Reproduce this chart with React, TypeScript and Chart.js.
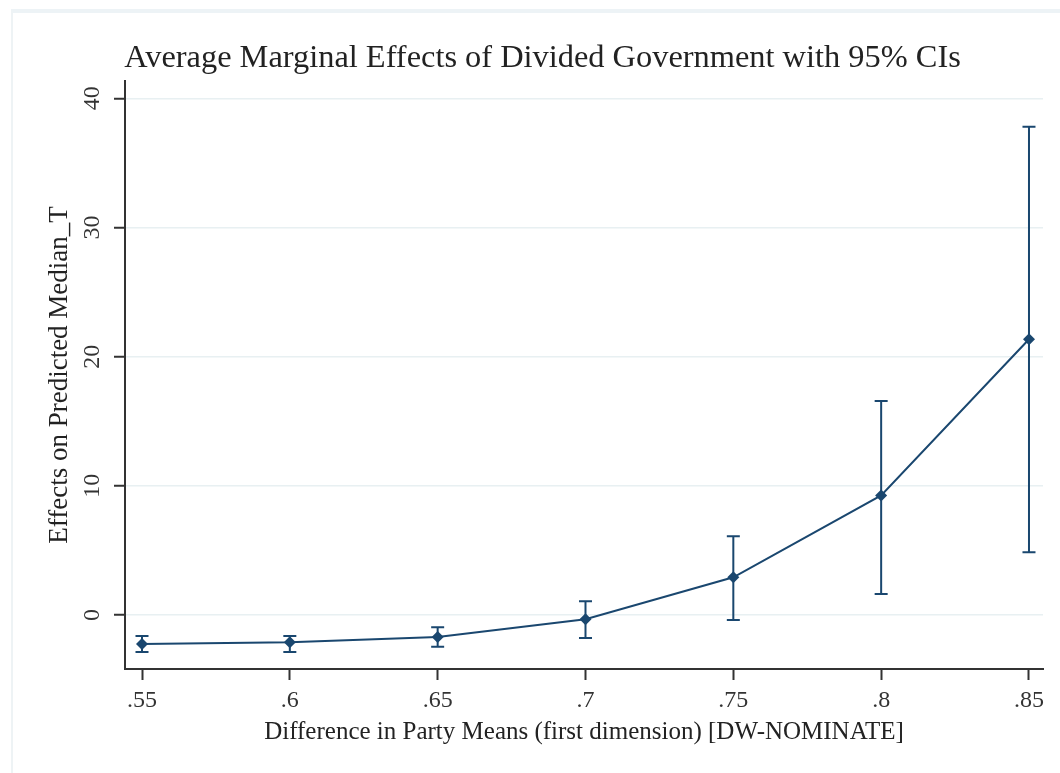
import { useEffect, useRef } from 'react';
import { Chart, registerables } from 'chart.js';

Chart.register(...registerables);

// Average marginal effect of divided government at each level of party polarization
const partyDiff = [0.55, 0.6, 0.65, 0.7, 0.75, 0.8, 0.85];
const marginalEffect = [-2.24, -2.11, -1.7, -0.33, 2.92, 9.26, 21.35];
const ciLower = [-2.86, -2.86, -2.45, -1.78, -0.39, 1.62, 4.85];
const ciUpper = [-1.62, -1.62, -0.95, 1.06, 6.09, 16.57, 37.8];

const xTickValues = [0.55, 0.6, 0.65, 0.7, 0.75, 0.8, 0.85];
const xTickLabels = ['.55', '.6', '.65', '.7', '.75', '.8', '.85'];
const yTickValues = [0, 10, 20, 30, 40];
const yTickLabels = ['0', '10', '20', '30', '40'];

const NAVY = '#1a476f';
const SERIF = '"Liberation Serif", "DejaVu Serif", serif';
const TEXT = '#222222';
const AXIS = '#333333';

// Vertical 95% CI whiskers with end caps, positioned through the chart scales
const errorBars = {
  id: 'errorBars',
  beforeDatasetsDraw(chart: any) {
    const { ctx } = chart;
    const x = chart.scales.x;
    const y = chart.scales.y;
    const cap = 6.5;
    ctx.save();
    ctx.strokeStyle = NAVY;
    ctx.lineWidth = 2;
    partyDiff.forEach((v, i) => {
      const px = x.getPixelForValue(v);
      const top = y.getPixelForValue(ciUpper[i]);
      const bot = y.getPixelForValue(ciLower[i]);
      ctx.beginPath();
      ctx.moveTo(px, top);
      ctx.lineTo(px, bot);
      ctx.moveTo(px - cap, top);
      ctx.lineTo(px + cap, top);
      ctx.moveTo(px - cap, bot);
      ctx.lineTo(px + cap, bot);
      ctx.stroke();
    });
    ctx.restore();
  },
};

export default function App() {
  const canvasRef = useRef<HTMLCanvasElement | null>(null);

  useEffect(() => {
    if (!canvasRef.current) return;
    const chart = new Chart(canvasRef.current, {
      type: 'line',
      data: {
        datasets: [
          {
            data: partyDiff.map((x, i) => ({ x, y: marginalEffect[i] })),
            borderColor: NAVY,
            borderWidth: 2,
            backgroundColor: NAVY,
            pointStyle: 'rectRot',
            pointRadius: 6,
            pointBackgroundColor: NAVY,
            pointBorderWidth: 0,
            tension: 0,
            fill: false,
          },
        ],
      },
      options: {
        responsive: false,
        animation: false,
        layout: { padding: { left: 42, right: 17, top: 0, bottom: 0 } },
        plugins: {
          legend: { display: false },
          tooltip: { enabled: false },
          title: {
            display: true,
            text: 'Average Marginal Effects of Divided Government with 95% CIs',
            color: TEXT,
            font: { family: SERIF, size: 32.4, weight: 'normal' },
            padding: { top: 39.5, bottom: 2.6 },
          },
        },
        scales: {
          x: {
            type: 'linear',
            min: 0.54425,
            max: 0.85474,
            afterFit: (s: any) => {
              s.height = 104;
            },
            afterBuildTicks: (s: any) => {
              s.ticks = xTickValues.map((value) => ({ value }));
            },
            ticks: {
              callback: (_v: any, i: number) => xTickLabels[i],
              color: AXIS,
              font: { family: SERIF, size: 24 },
              padding: 6,
              maxRotation: 0,
              autoSkip: false,
            },
            grid: {
              color: 'rgba(0,0,0,0)',
              tickColor: AXIS,
              tickLength: 11,
              tickWidth: 2,
            },
            border: { display: true, color: AXIS, width: 2 },
            title: {
              display: true,
              text: 'Difference in Party Means (first dimension) [DW-NOMINATE]',
              color: TEXT,
              font: { family: SERIF, size: 25 },
              padding: { top: 0, bottom: 26 },
            },
          },
          y: {
            type: 'linear',
            min: -4.18,
            max: 41.34,
            afterFit: (s: any) => {
              s.width = 83;
            },
            afterBuildTicks: (s: any) => {
              s.ticks = yTickValues.map((value) => ({ value }));
            },
            ticks: {
              callback: (_v: any, i: number) => yTickLabels[i],
              color: AXIS,
              font: { family: SERIF, size: 24 },
              padding: 9,
              minRotation: 90,
              maxRotation: 90,
              crossAlign: 'center',
              autoSkip: false,
            },
            grid: {
              color: '#e8f0f2',
              lineWidth: 1.5,
              tickColor: AXIS,
              tickLength: 11,
              tickWidth: 2,
            },
            border: { display: true, color: AXIS, width: 2 },
            title: {
              display: true,
              text: 'Effects on Predicted Median_T',
              color: TEXT,
              font: { family: SERIF, size: 27 },
              padding: { top: 1.8, bottom: 0 },
            },
          },
        },
      } as any,
      plugins: [errorBars],
    });
    return () => chart.destroy();
  }, []);

  return (
    <div
      style={{
        position: 'absolute',
        left: 0,
        top: 0,
        width: 1060,
        height: 773,
        background: '#ffffff',
        overflow: 'hidden',
      }}
    >
      <div
        style={{
          position: 'absolute',
          left: 11,
          top: 9,
          right: 0,
          bottom: 0,
          borderTop: '4px solid #edf3f6',
          borderLeft: '2px solid #eef3f5',
        }}
      />
      <canvas
        ref={canvasRef}
        width={1060}
        height={773}
        style={{ position: 'absolute', left: 0, top: 0, width: 1060, height: 773 }}
      />
    </div>
  );
}
